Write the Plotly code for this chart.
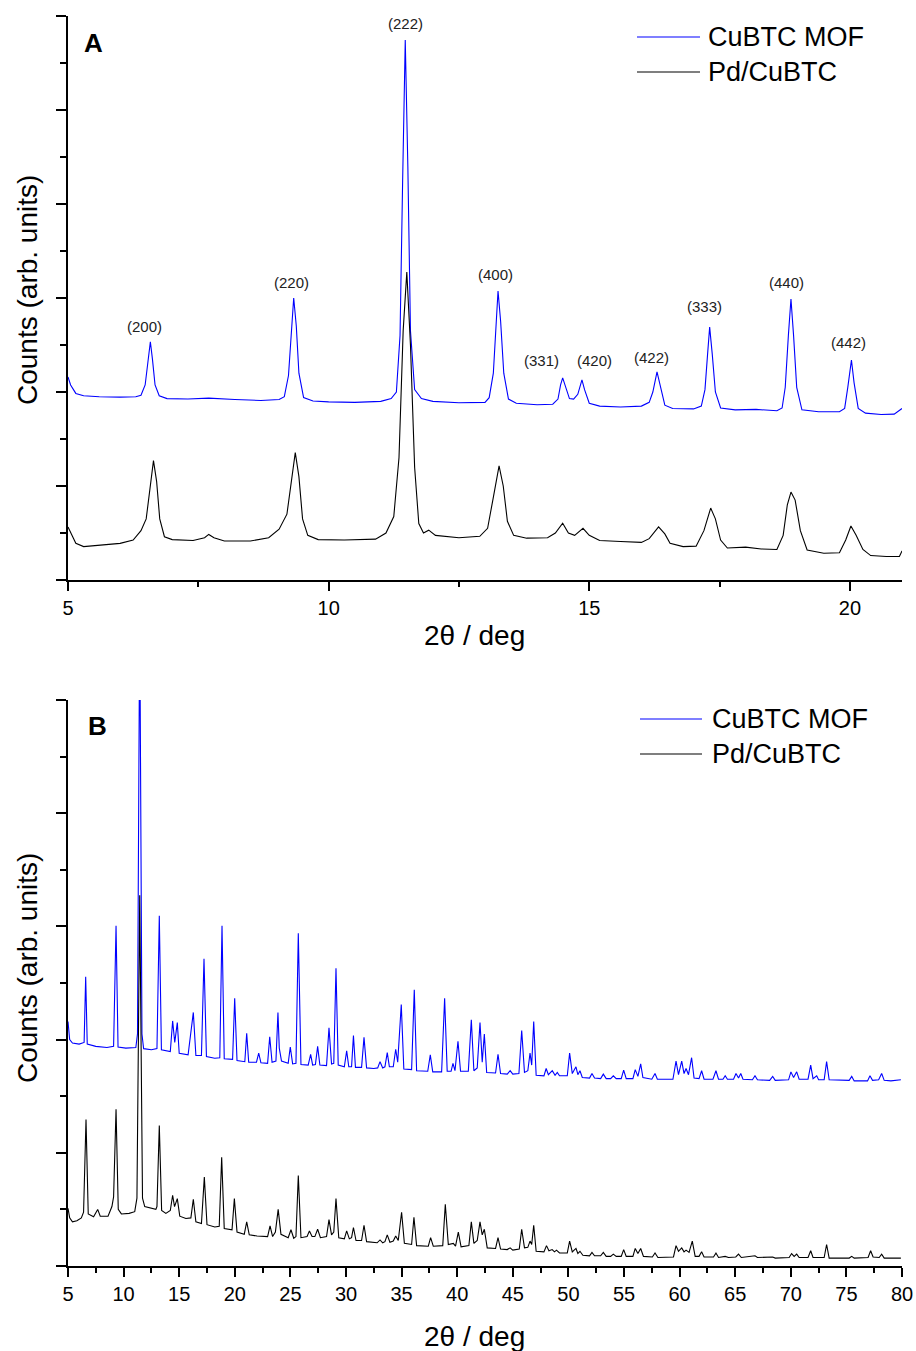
import plotly.graph_objects as go

# ---------------- data ----------------
# Panel A: 2theta (deg) vs counts (arb. units, offset traces)
A_blue = [(5.00,4.32),(5.05,4.15),(5.15,3.97),(5.30,3.92),(5.60,3.90),(6.00,3.89),(6.30,3.90),
          (6.40,3.93),(6.48,4.15),(6.53,4.60),(6.58,5.07),(6.62,4.70),(6.67,4.15),(6.75,3.92),
          (6.90,3.86),(7.30,3.85),(7.70,3.87),(8.20,3.84),(8.70,3.82),(9.05,3.84),
          (9.15,3.90),(9.23,4.35),(9.28,5.30),(9.33,6.00),(9.38,5.40),(9.43,4.40),(9.52,3.88),
          (9.70,3.81),(10.0,3.79),(10.5,3.78),(11.0,3.80),(11.2,3.86),
          (11.30,4.00),(11.37,5.20),(11.42,8.50),(11.47,11.49),(11.52,8.80),(11.57,5.30),(11.65,4.05),
          (11.78,3.86),(12.0,3.80),(12.5,3.77),(13.0,3.78),
          (13.08,3.88),(13.16,4.40),(13.21,5.40),(13.25,6.15),(13.30,5.50),(13.36,4.40),(13.45,3.85),
          (13.6,3.76),(14.0,3.73),(14.3,3.74),
          (14.40,3.85),(14.45,4.15),(14.49,4.30),(14.54,4.12),(14.62,3.86),(14.70,3.85),
          (14.78,3.95),(14.86,4.26),(14.91,4.05),(15.0,3.76),(15.2,3.70),(15.6,3.68),(16.0,3.70),
          (16.15,3.78),(16.22,4.00),(16.30,4.43),(16.36,4.12),(16.45,3.72),(16.6,3.65),(17.0,3.64),
          (17.15,3.70),(17.22,4.05),(17.27,4.80),(17.31,5.38),(17.36,4.80),(17.42,4.00),(17.52,3.66),
          (17.8,3.62),(18.2,3.63),(18.6,3.60),(18.7,3.66),
          (18.76,4.10),(18.82,5.20),(18.87,5.98),(18.92,5.20),(18.98,4.10),(19.08,3.62),
          (19.4,3.58),(19.8,3.58),(19.9,3.65),
          (19.96,4.10),(20.03,4.68),(20.08,4.20),(20.16,3.65),(20.3,3.55),(20.6,3.52),(20.85,3.53),(21.0,3.65)]

A_black = [(5.00,1.13),(5.05,1.00),(5.15,0.78),(5.30,0.71),(5.60,0.74),(6.00,0.78),(6.25,0.85),
           (6.40,1.05),(6.50,1.30),(6.57,1.90),(6.64,2.54),(6.70,2.10),(6.76,1.30),(6.85,0.92),
           (7.00,0.86),(7.40,0.84),(7.62,0.90),(7.70,0.97),(7.80,0.90),(8.00,0.83),(8.50,0.83),
           (8.85,0.90),(9.05,1.08),(9.20,1.40),(9.28,2.10),(9.36,2.71),(9.43,2.20),(9.50,1.30),
           (9.60,0.95),(9.80,0.86),(10.3,0.85),(10.9,0.87),(11.1,1.00),(11.25,1.35),(11.35,2.60),
           (11.43,5.30),(11.50,6.55),(11.57,5.00),(11.65,2.40),(11.73,1.20),(11.82,1.00),(11.92,1.06),
           (12.05,0.95),(12.5,0.90),(12.9,0.93),(13.05,1.10),(13.15,1.70),(13.27,2.43),(13.35,2.00),
           (13.43,1.25),(13.55,0.95),(13.8,0.89),(14.2,0.90),(14.35,1.00),(14.49,1.21),(14.60,1.00),
           (14.72,0.95),(14.88,1.10),(15.0,0.95),(15.2,0.84),(15.6,0.82),(16.0,0.80),(16.15,0.88),
           (16.33,1.13),(16.45,0.98),(16.55,0.78),(16.8,0.71),(17.05,0.72),(17.2,1.05),(17.33,1.53),
           (17.42,1.30),(17.52,0.85),(17.65,0.68),(18.0,0.70),(18.3,0.66),(18.6,0.65),(18.72,0.95),
           (18.8,1.60),(18.87,1.87),(18.95,1.70),(19.05,1.05),(19.18,0.64),(19.5,0.57),(19.8,0.58),
           (19.92,0.85),(20.02,1.15),(20.12,0.95),(20.25,0.65),(20.4,0.52),(20.7,0.50),(20.95,0.50),(21.0,0.62)]

# Panel A reflection labels: (text, 2theta, height)
A_labels = [("(200)",6.46,5.40),("(220)",9.28,6.32),("(222)",11.47,11.85),("(400)",13.20,6.51),
            ("(331)",14.08,4.66),("(420)",15.10,4.68),("(422)",16.19,4.74),("(333)",17.21,5.81),
            ("(440)",18.78,6.32),("(442)",19.97,5.06)]

# Panel B: wide range scan
B_blue = [(5.00,4.32),(5.15,4.00),(5.40,3.94),(6.00,3.92),(6.45,3.95),(6.59,5.11),(6.73,3.92),
          (7.50,3.88),(8.50,3.86),(9.10,3.88),(9.32,6.01),(9.50,3.87),(10.2,3.85),(11.1,3.86),
          (11.25,4.10),(11.45,11.6),(11.65,4.10),(11.8,3.84),(12.5,3.82),(13.0,3.84),(13.21,6.19),
          (13.4,3.82),(14.2,3.79),(14.41,4.33),(14.6,3.95),(14.83,4.30),(15.0,3.76),(15.8,3.73),
          (16.27,4.48),(16.5,3.72),(17.0,3.72),(17.23,5.43),(17.45,3.70),(18.2,3.67),(18.65,3.68),
          (18.85,6.01),(19.05,3.66),(19.8,3.65),(19.99,4.73),(20.2,3.63),(20.9,3.61),(21.07,4.11),
          (21.25,3.60),(21.95,3.60),(22.15,3.76),(22.35,3.59),(22.95,3.58),(23.14,4.05),(23.35,3.60),
          (23.7,3.62),(23.88,4.48),(24.0,3.85),(24.2,3.62),(24.8,3.58),(24.99,3.87),(25.2,3.57),
          (25.5,3.58),(25.71,5.88),(25.95,3.56),(26.6,3.55),(26.82,3.74),(27.0,3.55),(27.25,3.56),
          (27.45,3.88),(27.65,3.55),(28.25,3.54),(28.47,4.21),(28.7,3.57),(28.9,3.58),(29.1,5.26),
          (29.3,3.55),(29.85,3.52),(30.06,3.80),(30.25,3.52),(30.5,3.52),(30.67,4.07),(30.85,3.51),
          (31.4,3.51),(31.62,4.04),(31.85,3.50),(32.5,3.49),(32.85,3.50),(33.06,3.61),(33.3,3.50),
          (33.5,3.52),(33.71,3.77),(33.9,3.52),(34.25,3.52),(34.47,3.83),(34.65,3.60),(34.97,4.62),
          (35.2,3.48),(35.9,3.47),(36.14,4.88),(36.35,3.45),(37.35,3.44),(37.58,3.73),(37.8,3.43),
          (38.6,3.43),(38.87,4.73),(39.1,3.44),(39.45,3.44),(39.62,3.58),(39.8,3.45),(40.07,3.97),
          (40.3,3.44),(41.0,3.44),(41.27,4.35),(41.5,3.45),(41.8,3.50),(42.05,4.30),(42.25,3.60),
          (42.44,4.10),(42.65,3.42),(43.45,3.41),(43.67,3.74),(43.9,3.40),(44.5,3.39),(44.76,3.45),
          (45.0,3.39),(45.55,3.40),(45.80,4.16),(46.05,3.42),(46.35,3.45),(46.55,3.76),(46.7,3.55),
          (46.88,4.32),(47.1,3.37),(47.8,3.36),(48.0,3.49),(48.2,3.38),(48.55,3.45),(48.8,3.37),
          (49.0,3.42),(49.2,3.36),(49.9,3.36),(50.11,3.76),(50.35,3.40),(50.68,3.52),(50.85,3.38),
          (51.04,3.45),(51.25,3.33),(51.9,3.32),(52.12,3.40),(52.35,3.32),(52.9,3.31),(53.14,3.39),
          (53.4,3.31),(53.8,3.31),(54.04,3.36),(54.3,3.31),(54.75,3.31),(54.97,3.46),(55.2,3.31),
          (55.8,3.31),(56.01,3.47),(56.25,3.35),(56.5,3.57),(56.7,3.33),(57.5,3.30),(57.79,3.40),
          (58.0,3.30),(59.4,3.30),(59.68,3.62),(59.9,3.38),(60.19,3.62),(60.4,3.40),(60.58,3.49),
          (60.8,3.38),(61.08,3.68),(61.3,3.32),(61.75,3.31),(61.98,3.45),(62.2,3.30),(63.0,3.30),
          (63.27,3.45),(63.5,3.30),(63.9,3.30),(64.1,3.36),(64.3,3.30),(64.85,3.30),(65.07,3.40),
          (65.3,3.32),(65.5,3.40),(65.7,3.30),(66.55,3.29),(66.78,3.36),(67.0,3.29),(68.1,3.28),
          (68.37,3.35),(68.6,3.28),(69.8,3.29),(70.01,3.43),(70.25,3.33),(70.53,3.43),(70.75,3.30),
          (71.55,3.30),(71.79,3.55),(72.0,3.31),(72.33,3.36),(72.5,3.29),(73.0,3.29),(73.22,3.61),
          (73.45,3.29),(75.25,3.28),(75.48,3.35),(75.7,3.27),(76.9,3.27),(77.12,3.36),(77.35,3.28),
          (77.9,3.29),(78.17,3.40),(78.4,3.28),(79.0,3.27),(79.9,3.29)]

B_black = [(5.00,1.02),(5.15,0.85),(5.40,0.78),(5.80,0.80),(6.20,0.85),(6.40,0.95),(6.62,2.59),
           (6.82,0.92),(7.30,0.87),(7.67,1.00),(7.90,0.88),(8.60,0.88),(8.95,1.05),(9.10,1.22),
           (9.32,2.77),(9.52,1.00),(9.80,0.92),(10.5,0.93),(11.0,0.96),(11.2,1.20),(11.45,6.55),
           (11.7,1.20),(11.9,1.05),(12.5,1.02),(12.9,1.00),(13.0,1.05),(13.21,2.48),(13.42,0.98),
           (13.8,0.93),(14.2,0.98),(14.41,1.25),(14.58,1.05),(14.83,1.19),(15.05,0.88),(15.6,0.84),
           (16.05,0.85),(16.27,1.18),(16.5,0.78),(17.0,0.75),(17.26,1.57),(17.5,0.73),(18.2,0.69),
           (18.6,0.70),(18.82,1.92),(19.05,0.66),(19.75,0.64),(19.96,1.19),(20.2,0.60),(20.85,0.56),
           (21.07,0.78),(21.3,0.55),(22.0,0.53),(22.95,0.52),(23.17,0.71),(23.4,0.52),(23.65,0.60),
           (23.9,1.00),(24.15,0.56),(24.8,0.50),(25.05,0.64),(25.3,0.49),(25.5,0.52),(25.71,1.60),
           (25.95,0.50),(26.5,0.52),(26.71,0.62),(26.95,0.52),(27.2,0.52),(27.45,0.65),(27.7,0.50),
           (28.25,0.52),(28.47,0.82),(28.7,0.55),(28.9,0.60),(29.1,1.19),(29.35,0.50),(29.85,0.48),
           (30.06,0.62),(30.3,0.48),(30.5,0.50),(30.67,0.68),(30.9,0.45),(31.4,0.45),(31.62,0.72),
           (31.85,0.43),(32.8,0.41),(33.06,0.46),(33.3,0.41),(33.5,0.43),(33.71,0.55),(33.95,0.42),
           (34.25,0.44),(34.47,0.53),(34.7,0.45),(35.0,0.95),(35.25,0.40),(35.9,0.38),(36.11,0.86),
           (36.35,0.36),(37.4,0.35),(37.61,0.50),(37.85,0.35),(38.7,0.36),(38.93,1.09),(39.2,0.38),
           (39.65,0.40),(39.85,0.35),(40.1,0.60),(40.35,0.34),(41.05,0.36),(41.27,0.78),(41.5,0.40),
           (41.8,0.45),(42.05,0.78),(42.25,0.55),(42.44,0.65),(42.7,0.32),(43.45,0.31),(43.67,0.50),
           (43.9,0.30),(44.5,0.29),(44.76,0.32),(45.0,0.28),(45.58,0.30),(45.8,0.65),(46.05,0.32),
           (46.35,0.33),(46.55,0.44),(46.7,0.38),(46.88,0.72),(47.1,0.26),(47.8,0.25),(48.03,0.36),
           (48.25,0.27),(48.54,0.29),(48.75,0.25),(48.93,0.28),(49.2,0.23),(49.9,0.23),(50.11,0.44),
           (50.35,0.25),(50.68,0.31),(50.85,0.22),(51.04,0.26),(51.3,0.19),(51.9,0.18),(52.12,0.24),
           (52.35,0.18),(52.9,0.18),(53.14,0.24),(53.4,0.17),(53.8,0.17),(54.04,0.21),(54.3,0.17),
           (54.75,0.17),(54.97,0.29),(55.2,0.17),(55.8,0.17),(56.01,0.31),(56.25,0.22),(56.5,0.31),
           (56.75,0.17),(57.55,0.16),(57.79,0.23),(58.05,0.15),(59.45,0.16),(59.68,0.36),(59.9,0.26),
           (60.19,0.32),(60.4,0.25),(60.58,0.28),(60.85,0.24),(61.14,0.44),(61.4,0.17),(61.75,0.17),
           (61.98,0.25),(62.2,0.16),(63.05,0.16),(63.27,0.23),(63.5,0.15),(64.1,0.17),(64.4,0.15),
           (65.05,0.16),(65.3,0.21),(65.55,0.15),(66.78,0.18),(67.0,0.15),(68.37,0.16),(68.6,0.14),
           (69.85,0.15),(70.07,0.22),(70.3,0.17),(70.53,0.21),(70.75,0.15),(71.55,0.15),(71.79,0.27),
           (72.0,0.15),(73.0,0.15),(73.22,0.38),(73.45,0.14),(75.25,0.14),(75.48,0.17),(75.7,0.14),
           (76.95,0.15),(77.18,0.27),(77.4,0.16),(77.95,0.15),(78.17,0.21),(78.4,0.14),(79.9,0.14)]

series_names = ["CuBTC MOF", "Pd/CuBTC"]
A_xticks = [5, 10, 15, 20]
B_xticks = list(range(5, 81, 5))

# ---------------- figure ----------------
W, H = 916, 1351
FONT = "Liberation Sans, Arial, sans-serif"
BLUE, BLACK = "#0000ff", "#000000"

def px_x(p):
    return p / W

def px_y(p):
    return 1 - p / H

fig = go.Figure()

def add(data, color, xa, ya, name):
    fig.add_trace(go.Scatter(x=[p[0] for p in data], y=[p[1] for p in data], mode="lines",
                             line=dict(color=color, width=1.1), xaxis=xa, yaxis=ya,
                             name=name, showlegend=False, hoverinfo="skip"))

add(A_blue, BLUE, "x", "y", series_names[0])
add(A_black, BLACK, "x", "y", series_names[1])
add(B_blue, BLUE, "x2", "y2", series_names[0])
add(B_black, BLACK, "x2", "y2", series_names[1])

xdom = [px_x(68), px_x(902)]
axis_common = dict(showline=True, linecolor="black", linewidth=2, ticks="outside",
                   tickcolor="black", tickwidth=1.5, showgrid=False, zeroline=False,
                   mirror=False, automargin=False,
                   tickfont=dict(family=FONT, size=20, color="black"))

fig.update_layout(
    width=W, height=H, margin=dict(l=0, r=0, t=0, b=0),
    paper_bgcolor="white", plot_bgcolor="white", showlegend=False,
    font=dict(family=FONT, color="black"),
    xaxis=dict(domain=xdom, anchor="y", range=[5, 21], tickvals=A_xticks, ticklen=9,
               minor=dict(tickvals=[7.5, 12.5, 17.5], ticklen=5, ticks="outside",
                          tickcolor="black", tickwidth=1.5), **axis_common),
    yaxis=dict(domain=[px_y(580), px_y(16)], anchor="x", range=[0, 12], dtick=2, tick0=0,
               ticklen=10, showticklabels=False,
               minor=dict(dtick=1, ticklen=6, ticks="outside", tickcolor="black", tickwidth=1.5),
               **axis_common),
    xaxis2=dict(domain=xdom, anchor="y2", range=[5, 80], tickvals=B_xticks, ticklen=9,
                minor=dict(dtick=2.5, tick0=5, ticklen=5, ticks="outside",
                           tickcolor="black", tickwidth=1.5), **axis_common),
    yaxis2=dict(domain=[px_y(1266), px_y(700)], anchor="x2", range=[0, 10], dtick=2, tick0=0,
                ticklen=10, showticklabels=False,
                minor=dict(dtick=1, ticklen=6, ticks="outside", tickcolor="black", tickwidth=1.5),
                **axis_common),
)

ann = []
# reflection labels panel A
for t, x, y in A_labels:
    ann.append(dict(text=t, x=x, y=y, xref="x", yref="y", showarrow=False,
                    xanchor="center", yanchor="middle",
                    font=dict(family=FONT, size=15, color="#222222")))
# axis titles
for ycen in (636, 1336):
    ann.append(dict(text="2θ / deg", x=px_x(474), y=px_y(ycen), xref="paper", yref="paper",
                    showarrow=False, xanchor="center", yanchor="middle",
                    font=dict(family=FONT, size=28, color="black")))
for ycen in (290, 968):
    ann.append(dict(text="Counts (arb. units)", x=px_x(27), y=px_y(ycen), xref="paper",
                    yref="paper", showarrow=False, textangle=-90,
                    xanchor="center", yanchor="middle",
                    font=dict(family=FONT, size=28, color="black")))
# panel letters
ann.append(dict(text="<b>A</b>", x=px_x(93), y=px_y(43), xref="paper", yref="paper",
                showarrow=False, xanchor="center", yanchor="middle",
                font=dict(family=FONT, size=26, color="black")))
ann.append(dict(text="<b>B</b>", x=px_x(97), y=px_y(726), xref="paper", yref="paper",
                showarrow=False, xanchor="center", yanchor="middle",
                font=dict(family=FONT, size=26, color="black")))

# legends (line sample + text) for both panels
shapes = []
for (x0, x1, xt, ys) in [(637, 700, 706, (37, 72)), (640, 702, 710, (719, 754))]:
    for name, color, yy in zip(series_names, (BLUE, BLACK), ys):
        shapes.append(dict(type="line", xref="paper", yref="paper", x0=px_x(x0), x1=px_x(x1),
                           y0=px_y(yy), y1=px_y(yy), line=dict(color=color, width=1.1)))
        ann.append(dict(text=name, x=px_x(xt), y=px_y(yy), xref="paper", yref="paper",
                        xanchor="left", yanchor="middle", showarrow=False,
                        font=dict(family=FONT, size=27, color="black")))

fig.update_layout(annotations=ann, shapes=shapes)
fig.write_html("out.html")
